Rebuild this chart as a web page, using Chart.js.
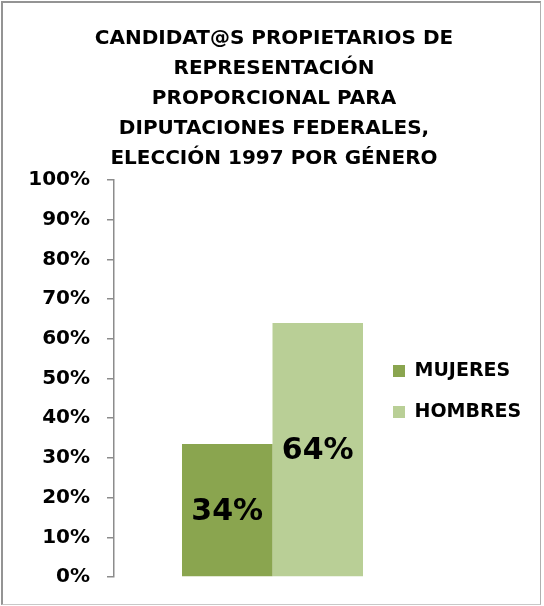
<!DOCTYPE html>
<html>
<head>
<meta charset="utf-8">
<script src="https://cdn.jsdelivr.net/npm/chart.js@4.4.1/dist/chart.umd.min.js"></script>
<style>
    html, body { margin: 0; padding: 0; background: #fff; }
    #wrap { position: relative; width: 544px; height: 606px; }
    #frame {
        position: absolute; left: 1px; top: 1px; width: 540px; height: 604px;
        box-sizing: border-box; pointer-events: none;
        border-left: 2px solid #949494; border-top: 2px solid #949494;
        border-right: 1px solid #b0b0b0; border-bottom: 1px solid #c8c8c8;
    }
</style>
</head>
<body>
<div id="wrap">
    <canvas id="genderChart" width="544" height="606"></canvas>
    <div id="frame"></div>
</div>
<script>
const titleLines = [
    'CANDIDAT@S PROPIETARIOS DE',
    'REPRESENTACIÓN',
    'PROPORCIONAL PARA',
    'DIPUTACIONES FEDERALES,',
    'ELECCIÓN 1997 POR GÉNERO'
];
const categories = [''];
const seriesNames = ['MUJERES', 'HOMBRES'];
const mujeres = [33.5];
const hombres = [64];
const seriesColors = ['#8aa54f', '#b9cf96'];

const FONT = 'DejaVu Sans';

document.addEventListener('DOMContentLoaded', function () {
    const ctx = document.getElementById('genderChart');

    // percentage labels in the middle of each bar
    const barLabels = {
        id: 'barLabels',
        afterDatasetsDraw(chart) {
            const c = chart.ctx;
            c.save();
            c.font = 'bold 30px "' + FONT + '"';
            c.fillStyle = '#000';
            c.textAlign = 'center';
            c.textBaseline = 'middle';
            chart.data.datasets.forEach((ds, i) => {
                chart.getDatasetMeta(i).data.forEach((bar, j) => {
                    const p = bar.getProps(['x', 'y', 'base'], true);
                    c.fillText(Math.round(ds.data[j]) + '%', p.x, (p.y + p.base) / 2 + 2);
                });
            });
            c.restore();
        }
    };

    // move the legend over the free space right of the bars
    const legendPlace = {
        id: 'legendPlace',
        afterLayout(chart) {
            const l = chart.legend;
            if (!l) return;
            l.left = 371;
            l.right = 544;
            l.width = l.right - l.left;
            l.top = 339.5;
            l.bottom = 450;
            l.height = l.bottom - l.top;
        }
    };

    new Chart(ctx, {
        type: 'bar',
        data: {
            labels: categories,
            datasets: [
                { label: seriesNames[0], data: mujeres, backgroundColor: seriesColors[0] },
                { label: seriesNames[1], data: hombres, backgroundColor: seriesColors[1] }
            ]
        },
        options: {
            responsive: false,
            animation: false,
            devicePixelRatio: 1,
            layout: { padding: { left: 4, right: 0, top: 0, bottom: 28 } },
            datasets: {
                bar: { categoryPercentage: 0.571, barPercentage: 1, borderWidth: 0 }
            },
            plugins: {
                title: {
                    display: true,
                    text: titleLines,
                    color: '#000',
                    font: { family: FONT, size: 20, weight: 'bold', lineHeight: 1.5 },
                    padding: { top: 24, bottom: 6 }
                },
                legend: {
                    position: 'right',
                    align: 'start',
                    maxWidth: 113,
                    labels: {
                        boxWidth: 12,
                        boxHeight: 12,
                        padding: 22,
                        color: '#000',
                        font: { family: FONT, size: 19, weight: 'bold' }
                    }
                },
                tooltip: { enabled: false }
            },
            scales: {
                x: { display: false },
                y: {
                    min: 0,
                    max: 100,
                    afterFit: s => { s.width = 110; },
                    ticks: {
                        stepSize: 10,
                        padding: 17,
                        color: '#000',
                        font: { family: FONT, size: 20, weight: 'bold' },
                        callback: v => v + '%'
                    },
                    grid: {
                        drawOnChartArea: false,
                        drawTicks: true,
                        tickLength: 7,
                        color: '#8c8c8c',
                        lineWidth: 1.5
                    },
                    border: { display: true, color: '#8c8c8c', width: 1.5 }
                }
            }
        },
        plugins: [barLabels, legendPlace]
    });
});
</script>
</body>
</html>
